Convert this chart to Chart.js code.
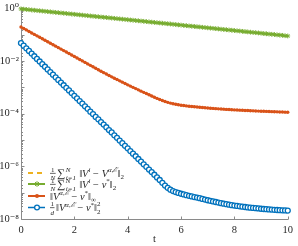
<!DOCTYPE html>
<html>
<head>
<meta charset="utf-8">
<script src="https://cdn.jsdelivr.net/npm/chart.js@4"></script>
<style>
	html, body { margin: 0; padding: 0; background: #fff; }
	canvas { display: block; }
</style>
</head>
<body>
<canvas id="errChart" width="298" height="246"></canvas>
<script>
// time grid (x)
const tVals = [0,0.1,0.2,0.3,0.4,0.5,0.6,0.7,0.8,0.9,1,1.1,1.2,1.3,1.4,1.5,1.6,1.7,1.8,1.9,2,2.1,2.2,2.3,2.4,2.5,2.6,2.7,2.8,2.9,3,3.1,3.2,3.3,3.4,3.5,3.6,3.7,3.8,3.9,4,4.1,4.2,4.3,4.4,4.5,4.6,4.7,4.8,4.9,5,5.1,5.2,5.3,5.4,5.5,5.6,5.7,5.8,5.9,6,6.1,6.2,6.3,6.4,6.5,6.6,6.7,6.8,6.9,7,7.1,7.2,7.3,7.4,7.5,7.6,7.7,7.8,7.9,8,8.1,8.2,8.3,8.4,8.5,8.6,8.7,8.8,8.9,9,9.1,9.2,9.3,9.4,9.5,9.6,9.7,9.8,9.9,10];

// 1/N sum ||V^i - V^{a,E}||_2  (below the visible range)
const consensusGap = [];

// 1/N sum ||V^i - v*||_2
const particleErr = [
	0.950,0.928,0.906,0.885,0.864,0.844,0.824,0.805,0.786,0.768,
	0.750,0.732,0.715,0.699,0.682,0.666,0.651,0.635,0.620,0.606,
	0.592,0.578,0.564,0.551,0.538,0.526,0.513,0.501,0.490,0.478,
	0.467,0.456,0.446,0.435,0.425,0.415,0.405,0.396,0.387,0.378,
	0.369,0.360,0.352,0.344,0.336,0.328,0.320,0.313,0.305,0.298,
	0.291,0.284,0.278,0.271,0.265,0.259,0.253,0.247,0.241,0.235,
	0.230,0.224,0.219,0.214,0.209,0.204,0.199,0.195,0.190,0.186,
	0.181,0.177,0.173,0.169,0.165,0.161,0.157,0.154,0.150,0.147,
	0.143,0.140,0.137,0.133,0.130,0.127,0.124,0.121,0.119,0.116,
	0.113,0.110,0.108,0.105,0.103,0.101,0.098,0.096,0.094,0.091,
	0.089];

// ||V^{a,E} - v*||_inf
const supErr = [
	1.95e-1,1.71e-1,1.51e-1,1.32e-1,1.16e-1,1.02e-1,8.99e-2,7.91e-2,6.95e-2,6.11e-2,
	5.37e-2,4.72e-2,4.15e-2,3.65e-2,3.21e-2,2.82e-2,2.48e-2,2.18e-2,1.91e-2,1.68e-2,
	1.48e-2,1.30e-2,1.14e-2,1.005e-2,8.83e-3,7.76e-3,6.82e-3,6.00e-3,5.27e-3,4.63e-3,
	4.07e-3,3.61e-3,3.19e-3,2.82e-3,2.50e-3,2.21e-3,1.97e-3,1.76e-3,1.57e-3,1.40e-3,
	1.24e-3,1.11e-3,9.98e-4,8.93e-4,8.00e-4,7.16e-4,6.44e-4,5.79e-4,5.21e-4,4.69e-4,
	4.22e-4,3.80e-4,3.44e-4,3.14e-4,2.88e-4,2.68e-4,2.51e-4,2.38e-4,2.26e-4,2.17e-4,
	2.09e-4,2.03e-4,1.97e-4,1.92e-4,1.87e-4,1.82e-4,1.78e-4,1.74e-4,1.71e-4,1.67e-4,
	1.64e-4,1.61e-4,1.58e-4,1.55e-4,1.52e-4,1.50e-4,1.48e-4,1.45e-4,1.43e-4,1.41e-4,
	1.39e-4,1.37e-4,1.36e-4,1.34e-4,1.32e-4,1.31e-4,1.29e-4,1.28e-4,1.26e-4,1.25e-4,
	1.24e-4,1.23e-4,1.22e-4,1.21e-4,1.19e-4,1.18e-4,1.17e-4,1.16e-4,1.15e-4,1.14e-4,
	1.13e-4];

// 1/d ||V^{a,E} - v*||_2^2
const sqErr = [
	4.79e-2,3.80e-2,3.02e-2,2.40e-2,1.91e-2,1.51e-2,1.20e-2,9.55e-3,7.59e-3,6.03e-3,
	4.79e-3,3.80e-3,3.02e-3,2.40e-3,1.91e-3,1.51e-3,1.20e-3,9.55e-4,7.59e-4,6.03e-4,
	4.75e-4,3.83e-4,3.00e-4,2.42e-4,1.89e-4,1.52e-4,1.19e-4,9.60e-5,7.50e-5,6.10e-5,
	4.80e-5,3.85e-5,3.05e-5,2.38e-5,1.93e-5,1.50e-5,1.21e-5,9.50e-6,7.60e-6,6.00e-6,
	4.82e-6,3.78e-6,3.03e-6,2.41e-6,1.90e-6,1.52e-6,1.19e-6,9.60e-7,7.55e-7,6.05e-7,
	4.79e-7,3.80e-7,3.02e-7,2.36e-7,1.86e-7,1.52e-7,1.30e-7,1.15e-7,1.05e-7,9.75e-8,
	9.10e-8,8.55e-8,8.05e-8,7.60e-8,7.18e-8,6.82e-8,6.50e-8,6.15e-8,5.80e-8,5.48e-8,
	5.16e-8,4.90e-8,4.64e-8,4.42e-8,4.19e-8,3.99e-8,3.81e-8,3.64e-8,3.51e-8,3.36e-8,
	3.24e-8,3.13e-8,3.02e-8,2.95e-8,2.85e-8,2.75e-8,2.69e-8,2.63e-8,2.57e-8,2.51e-8,
	2.45e-8,2.40e-8,2.36e-8,2.31e-8,2.27e-8,2.24e-8,2.20e-8,2.17e-8,2.14e-8,2.11e-8,
	2.09e-8];

const xTicks = [0, 2, 4, 6, 8, 10];
const yLabelExps = [0, -2, -4, -6, -8];

const SERIF = '"Liberation Serif", "DejaVu Serif", serif';
const TXT = '#262626';
const AX = '#8a8a8a';

const YELLOW = '#EDB120', GREEN = '#77AC30', ORANGE = '#D95319', BLUE = '#0072BD';

function pts(ys) { return ys.map((v, i) => ({ x: tVals[i], y: v })); }

const SUP = { '0': '⁰', '1': '¹', '2': '²', '3': '³', '4': '⁴', '5': '⁵', '6': '⁶', '7': '⁷', '8': '⁸', '9': '⁹', '-': '⁻' };
function supStr(n) { return String(n).split('').map(c => SUP[c] || c).join(''); }

/* ---------- axes: left + bottom lines, inward ticks ---------- */
const axesPlugin = {
	id: 'axesLines',
	beforeDatasetsDraw(chart) {
		const { ctx, chartArea: a, scales: { x, y } } = chart;
		ctx.save();
		ctx.strokeStyle = AX;
		ctx.lineWidth = 1;
		ctx.beginPath();
		const L = Math.round(a.left) + 0.5, B = Math.round(a.bottom) + 0.5;
		ctx.moveTo(L, a.top - 1); ctx.lineTo(L, B); ctx.lineTo(a.right + 0.5, B);
		xTicks.forEach(v => {
			const px = Math.round(x.getPixelForValue(v)) + 0.5;
			ctx.moveTo(px, B); ctx.lineTo(px, B - 3);
		});
		y.ticks.forEach(t => {
			const lg = Math.log10(t.value);
			const major = Math.abs(lg - Math.round(lg)) < 1e-6;
			const py = Math.round(y.getPixelForValue(t.value)) + 0.5;
			ctx.moveTo(L, py); ctx.lineTo(L + (major ? 3 : 1.5), py);
		});
		ctx.stroke();
		ctx.restore();
	}
};

/* ---------- legend with math text ---------- */
function font(sz, it) { return (it ? 'italic ' : '') + sz + 'px ' + SERIF; }

function drawRuns(ctx, x, y, runs) {
	const base = 10.5, small = 7;
	runs.forEach(r => {
		if (r.frac) {
			ctx.font = font(small, false);
			const w1 = ctx.measureText(r.frac[0]).width;
			ctx.font = font(small, true);
			const w2 = ctx.measureText(r.frac[1]).width;
			const w = Math.max(w1, w2) + 1;
			ctx.font = font(small, false);
			ctx.fillText(r.frac[0], x + (w - w1) / 2, y - 5);
			ctx.font = font(small, true);
			ctx.fillText(r.frac[1], x + (w - w2) / 2, y + 3.5);
			ctx.fillRect(x, y - 3.6, w, 0.7);
			x += w + 1.5;
		} else if (r.stack) {
			ctx.font = font(small, r.si);
			const ws = ctx.measureText(r.stack[0]).width;
			ctx.fillText(r.stack[0], x, y - 5);
			ctx.font = font(small, r.bi);
			const wb = ctx.measureText(r.stack[1]).width;
			ctx.fillText(r.stack[1], x, y + 3);
			x += Math.max(ws, wb) + 0.5;
		} else {
			ctx.font = font(r.sz || (r.up || r.dn ? small : base), r.i);
			const dy = r.up ? -4.5 : (r.dn ? 2.8 : 0);
			ctx.fillText(r.t, x, y + dy);
			x += ctx.measureText(r.t).width + (r.gap || 0);
		}
	});
}

const legendRows = [
	{ color: YELLOW, dash: [5, 4], marker: null, y: 173, runs: [
		{ frac: ['1', 'N'] }, { t: '∑', sz: 11.5, gap: 0.5 }, { stack: ['N', 'i=1'], si: true, bi: true },
		{ t: ' ‖' }, { t: 'V', i: true }, { t: 'i', up: true, i: true }, { t: ' − ' }, { t: 'V', i: true },
		{ t: 'α,ℰ', up: true, i: true }, { t: '‖' }, { t: '2', dn: true }] },
	{ color: GREEN, dash: [], marker: 'star', y: 184, runs: [
		{ frac: ['1', 'N'] }, { t: '∑', sz: 11.5, gap: 0.5 }, { stack: ['N', 'i=1'], si: true, bi: true },
		{ t: ' ‖' }, { t: 'V', i: true }, { t: 'i', up: true, i: true }, { t: ' − ' }, { t: 'v', i: true },
		{ t: '*', up: true }, { t: '‖' }, { t: '2', dn: true }] },
	{ color: ORANGE, dash: [], marker: 'dot', y: 196, runs: [
		{ t: '‖' }, { t: 'V', i: true }, { t: 'α,ℰ', up: true, i: true }, { t: ' − ' }, { t: 'v', i: true },
		{ t: '*', up: true }, { t: '‖' }, { t: '∞', dn: true }] },
	{ color: BLUE, dash: [], marker: 'circle', y: 207.5, runs: [
		{ frac: ['1', 'd'] }, { t: '‖' }, { t: 'V', i: true }, { t: 'α,ℰ', up: true, i: true }, { t: ' − ' },
		{ t: 'v', i: true }, { t: '*', up: true }, { t: '‖' }, { stack: ['2', '2'] }] }
];

const legendPlugin = {
	id: 'mathLegend',
	afterDatasetsDraw(chart) {
		const ctx = chart.ctx;
		ctx.save();
		legendRows.forEach(r => {
			const x0 = 28, x1 = 45, xm = 37, yy = r.y;
			ctx.strokeStyle = r.color;
			ctx.lineWidth = r.marker === 'circle' ? 1.5 : 2;
			ctx.setLineDash(r.dash);
			ctx.beginPath(); ctx.moveTo(x0, yy); ctx.lineTo(x1, yy); ctx.stroke();
			ctx.setLineDash([]);
			if (r.marker === 'dot') {
				ctx.fillStyle = r.color;
				ctx.beginPath(); ctx.arc(xm, yy, 2, 0, Math.PI * 2); ctx.fill();
			} else if (r.marker === 'circle') {
				ctx.fillStyle = '#fff'; ctx.lineWidth = 1.3;
				ctx.beginPath(); ctx.arc(xm, yy, 2.4, 0, Math.PI * 2); ctx.fill(); ctx.stroke();
			} else if (r.marker === 'star') {
				ctx.lineWidth = 1;
				ctx.beginPath();
				for (let k = 0; k < 4; k++) {
					const an = k * Math.PI / 4, dx = Math.cos(an) * 2.8, dy = Math.sin(an) * 2.8;
					ctx.moveTo(xm - dx, yy - dy); ctx.lineTo(xm + dx, yy + dy);
				}
				ctx.stroke();
			}
			ctx.fillStyle = TXT;
			ctx.textBaseline = 'alphabetic';
			drawRuns(ctx, 50, yy + 3.5, r.runs);
		});
		ctx.restore();
	}
};

/* ---------- chart ---------- */
const ctx = document.getElementById('errChart').getContext('2d');
new Chart(ctx, {
	type: 'line',
	data: {
		datasets: [
			{ label: 'consensus gap', data: pts(consensusGap), borderColor: YELLOW, borderDash: [5, 4], borderWidth: 1.5, pointRadius: 0, clip: false },
			{ label: 'particle error', data: pts(particleErr), borderColor: GREEN, backgroundColor: GREEN, borderWidth: 2,
				pointStyle: 'star', pointRadius: 2.4, pointBorderWidth: 1, pointBorderColor: GREEN, clip: false },
			{ label: 'sup error', data: pts(supErr), borderColor: ORANGE, backgroundColor: ORANGE, borderWidth: 2,
				pointStyle: 'circle', pointRadius: 1.7, pointBorderWidth: 0, pointBackgroundColor: ORANGE, clip: false },
			{ label: 'sq error', data: pts(sqErr), borderColor: BLUE, borderWidth: 1.5,
				pointStyle: 'circle', pointRadius: 2.5, pointBorderWidth: 1.3, pointBorderColor: BLUE, pointBackgroundColor: '#fff', clip: false }
		]
	},
	options: {
		responsive: false,
		animation: false,
		layout: { padding: { top: 6, right: 5, left: 0, bottom: 0 } },
		plugins: { legend: { display: false }, tooltip: { enabled: false } },
		elements: { line: { tension: 0 } },
		scales: {
			x: {
				type: 'linear', min: 0, max: 10,
				afterBuildTicks: s => { s.ticks = xTicks.map(v => ({ value: v })); },
				ticks: { font: { family: SERIF, size: 10.5 }, color: TXT, padding: 5, maxRotation: 0, autoSkip: false },
				grid: { display: false, drawTicks: false },
				border: { display: false },
				title: { display: true, text: 't', font: { family: SERIF, size: 10.5 }, color: TXT, padding: { top: 0, bottom: 0 } },
				afterFit: s => { s.height = 27; }
			},
			y: {
				type: 'logarithmic', min: 1e-8, max: 1,
				ticks: {
					autoSkip: false,
					font: { family: SERIF, size: 10.5 }, color: TXT, padding: 2,
					callback: v => {
						const lg = Math.log10(v), e = Math.round(lg);
						return (Math.abs(lg - e) < 1e-6 && yLabelExps.includes(e)) ? '10' + supStr(e) : '';
					}
				},
				grid: { display: false, drawTicks: false },
				border: { display: false },
				afterFit: s => { s.width = 21; }
			}
		}
	},
	plugins: [axesPlugin, legendPlugin]
});
</script>
</body>
</html>
